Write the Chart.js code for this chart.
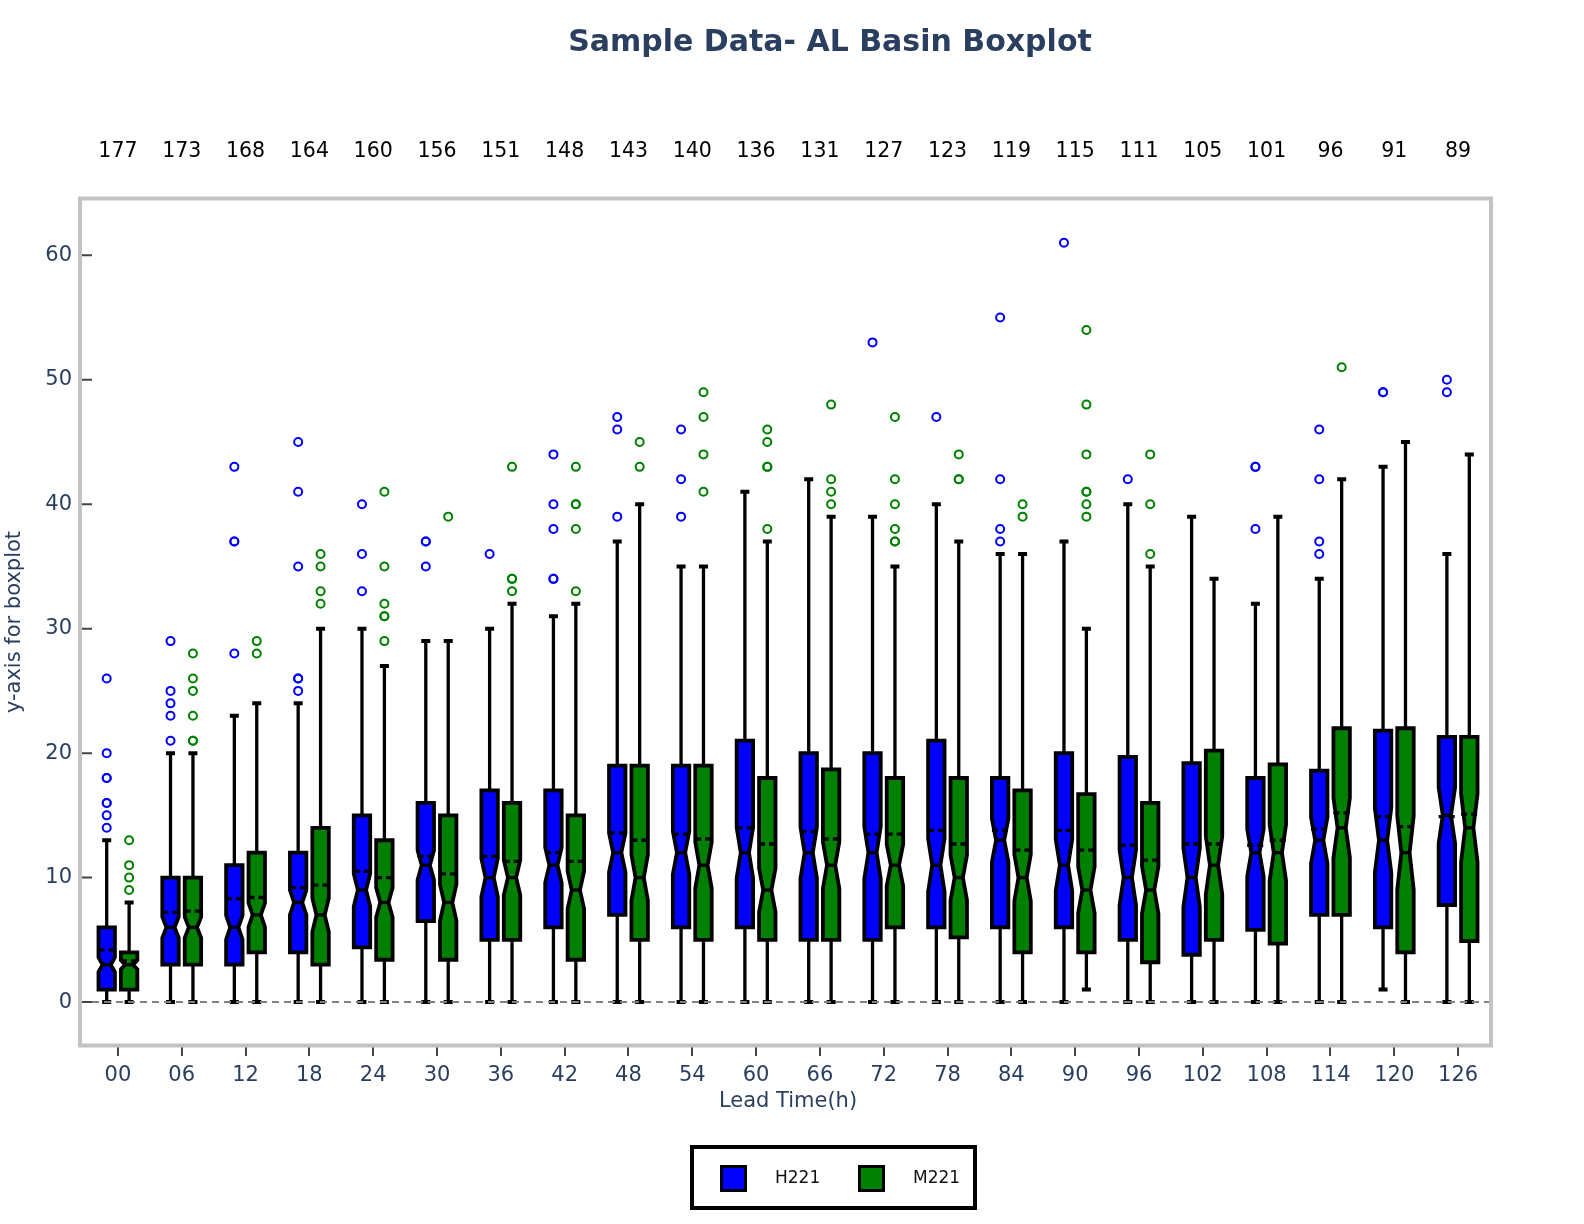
<!DOCTYPE html>
<html>
<head>
<meta charset="utf-8">
<title>Sample Data- AL Basin Boxplot</title>
<script src="https://cdn.jsdelivr.net/npm/chart.js@4.4.1/dist/chart.umd.min.js"></script>
<style>
  html, body { margin: 0; padding: 0; background: #fff; }
  #wrap { width: 1584px; height: 1224px; }
</style>
</head>
<body>
<div id="wrap"><canvas id="chart" width="1584" height="1224"></canvas></div>
<script>
// lead times and number of cases per lead time
const leadTimes = ['00', '06', '12', '18', '24', '30', '36', '42', '48', '54', '60', '66', '72', '78', '84', '90', '96', '102', '108', '114', '120', '126'];
const caseCounts = [177, 173, 168, 164, 160, 156, 151, 148, 143, 140, 136, 131, 127, 123, 119, 115, 111, 105, 101, 96, 91, 89];

// H221 box statistics
const hLow  = [0, 0, 0, 0, 0, 0, 0, 0, 0, 0, 0, 0, 0, 0, 0, 0, 0, 0, 0, 0, 1, 0];
const hQ1   = [1, 3, 3, 4, 4.4, 6.5, 5, 6, 7, 6, 6, 5, 5, 6, 6, 6, 5, 3.8, 5.8, 7, 6, 7.8];
const hMed  = [3, 6, 6, 8, 9, 11, 10, 11, 12, 12, 12, 12, 12, 11, 13, 11, 10, 10, 12, 13, 13, 15];
const hQ3   = [6, 10, 11, 12, 15, 16, 17, 17, 19, 19, 21, 20, 20, 21, 18, 20, 19.7, 19.2, 18, 18.6, 21.8, 21.3];
const hHigh = [13, 20, 23, 24, 30, 29, 30, 31, 37, 35, 41, 42, 39, 40, 36, 37, 40, 39, 32, 34, 43, 36];
const hMean = [4.2, 7.2, 8.3, 9.2, 10.5, 11.7, 11.7, 12, 13.6, 13.5, 14, 13.7, 13.5, 13.8, 13.8, 13.8, 12.6, 12.7, 12.6, 13.9, 14.9, 14.9];
const hOut  = [
  [14, 15, 16, 16, 18, 18, 20, 26], [21, 23, 24, 25, 29], [28, 37, 37, 43], [25, 26, 26, 35, 41, 45],
  [33, 36, 40], [35, 37, 37], [36], [34, 34, 38, 40, 44], [39, 46, 47], [39, 42, 46], [], [],
  [53], [47], [37, 38, 42, 55], [61], [42], [], [38, 43, 43], [36, 37, 42, 46], [49, 49], [49, 50]
];

// M221 box statistics
const mLow  = [0, 0, 0, 0, 0, 0, 0, 0, 0, 0, 0, 0, 0, 0, 0, 1, 0, 0, 0, 0, 0, 0];
const mQ1   = [1, 3, 4, 3, 3.4, 3.4, 5, 3.4, 5, 5, 5, 5, 6, 5.2, 4, 4, 3.2, 5, 4.7, 7, 4, 4.9];
const mMed  = [3, 6, 7, 7, 8, 8, 10, 9, 10, 11, 9, 11, 11, 10, 10, 9, 9, 11, 12, 14, 12, 14];
const mQ3   = [4, 10, 12, 14, 13, 15, 16, 15, 19, 19, 18, 18.7, 18, 18, 17, 16.7, 16, 20.2, 19.1, 22, 22, 21.3];
const mHigh = [8, 20, 24, 30, 27, 29, 32, 32, 40, 35, 37, 39, 35, 37, 36, 30, 35, 34, 39, 42, 45, 44];
const mMean = [3.3, 7.3, 8.4, 9.4, 10, 10.3, 11.3, 11.3, 13, 13.1, 12.7, 13.1, 13.5, 12.7, 12.2, 12.2, 11.4, 12.7, 13, 15.2, 14.1, 15.1];
const mOut  = [
  [9, 10, 11, 13], [21, 21, 23, 25, 26, 28], [28, 29], [32, 33, 35, 36], [29, 31, 31, 32, 35, 41],
  [39], [33, 34, 34, 43], [33, 38, 40, 40, 43], [43, 45], [41, 44, 47, 49], [38, 43, 43, 45, 46],
  [40, 41, 42, 48], [37, 37, 38, 40, 42, 47], [42, 42, 44], [39, 40], [39, 40, 41, 41, 44, 48, 54],
  [36, 40, 44], [], [], [51], [], []
];

const yTicks = [0, 10, 20, 30, 40, 50, 60];

const FONT = "'DejaVu Sans', Verdana, sans-serif";
const INK = '#2a3f5f';

// 노치 박스 그리기
const boxPlugin = {
  id: 'notchedBoxes',
  afterDatasetsDraw(chart) {
    const ctx = chart.ctx;
    const y = chart.scales.y;
    const p = v => y.getPixelForValue(v);

    chart.data.datasets.forEach((ds, di) => {
      const meta = chart.getDatasetMeta(di);
      meta.data.forEach((bar, i) => {
        const cx = bar.x;
        const hw = bar.width / 2;
        const q1 = ds.q1[i], q3 = ds.q3[i], med = ds.med[i];
        const notch = 1.57 * (q3 - q1) / Math.sqrt(caseCounts[i]);

        ctx.save();
        ctx.strokeStyle = '#000';
        ctx.lineWidth = 3.3;
        ctx.beginPath();
        ctx.moveTo(cx, p(ds.low[i]));
        ctx.lineTo(cx, p(q1));
        ctx.moveTo(cx, p(q3));
        ctx.lineTo(cx, p(ds.high[i]));
        ctx.stroke();

        ctx.lineWidth = 4;
        ctx.beginPath();
        [ds.low[i], ds.high[i]].forEach(v => {
          ctx.moveTo(cx - 4.5, p(v));
          ctx.lineTo(cx + 4.5, p(v));
        });
        ctx.stroke();

        ctx.beginPath();
        ctx.moveTo(cx - hw, p(q1));
        ctx.lineTo(cx + hw, p(q1));
        ctx.lineTo(cx + hw, p(med - notch));
        ctx.lineTo(cx + hw / 2, p(med));
        ctx.lineTo(cx + hw, p(med + notch));
        ctx.lineTo(cx + hw, p(q3));
        ctx.lineTo(cx - hw, p(q3));
        ctx.lineTo(cx - hw, p(med + notch));
        ctx.lineTo(cx - hw / 2, p(med));
        ctx.lineTo(cx - hw, p(med - notch));
        ctx.closePath();
        ctx.fillStyle = ds.boxColor;
        ctx.fill();
        ctx.lineWidth = 3.8;
        ctx.lineJoin = 'miter';
        ctx.stroke();

        // 중앙값
        ctx.lineWidth = 3.3;
        ctx.beginPath();
        ctx.moveTo(cx - hw / 2, p(med));
        ctx.lineTo(cx + hw / 2, p(med));
        ctx.stroke();

        // 평균 (점선)
        ctx.setLineDash([6, 4]);
        ctx.beginPath();
        ctx.moveTo(cx - hw, p(ds.mean[i]));
        ctx.lineTo(cx + hw, p(ds.mean[i]));
        ctx.stroke();
        ctx.setLineDash([]);

        // 이상치
        ctx.strokeStyle = ds.boxColor;
        ctx.lineWidth = 2;
        ds.out[i].forEach(v => {
          ctx.beginPath();
          ctx.arc(cx, p(v), 4, 0, Math.PI * 2);
          ctx.stroke();
        });
        ctx.restore();
      });
    });

    // zero line
    const area = chart.chartArea;
    ctx.save();
    ctx.strokeStyle = '#808080';
    ctx.lineWidth = 2;
    ctx.setLineDash([7, 5]);
    ctx.beginPath();
    ctx.moveTo(area.left - 6, p(0));
    ctx.lineTo(area.right, p(0));
    ctx.stroke();
    ctx.restore();
  },
  afterDraw(chart) {
    const ctx = chart.ctx;
    const area = chart.chartArea;
    const x = chart.scales.x;
    const y = chart.scales.y;
    ctx.save();

    // frame
    ctx.strokeStyle = '#c3c3c3';
    ctx.lineWidth = 4;
    ctx.strokeRect(area.left - 6, area.top + 0.5, area.right - area.left + 7, area.bottom - area.top - 1);

    // y tick marks
    ctx.strokeStyle = '#444';
    ctx.lineWidth = 2;
    ctx.beginPath();
    yTicks.forEach(v => {
      const py = y.getPixelForValue(v);
      ctx.moveTo(area.left - 4, py);
      ctx.lineTo(area.left + 6, py);
    });
    ctx.stroke();

    // title
    ctx.fillStyle = INK;
    ctx.font = "bold 30px " + FONT;
    ctx.textAlign = 'center';
    ctx.textBaseline = 'middle';
    ctx.fillText('Sample Data- AL Basin Boxplot', 830, 43);

    // 사례 수
    ctx.fillStyle = '#000';
    ctx.font = "20.5px " + FONT;
    caseCounts.forEach((n, i) => {
      ctx.fillText(String(n), x.getPixelForValue(i), 152);
    });

    // legend
    ctx.strokeStyle = '#000';
    ctx.lineWidth = 4;
    ctx.strokeRect(692, 1147, 283, 61);
    ctx.font = "17px " + FONT;
    ctx.textAlign = 'left';
    const items = [[720, 775], [858, 913]];
    chart.data.datasets.forEach((ds, di) => {
      const [bx, tx] = items[di];
      ctx.fillStyle = ds.boxColor;
      ctx.fillRect(bx + 1.5, 1166.5, 24, 24);
      ctx.lineWidth = 3;
      ctx.strokeRect(bx + 1.5, 1166.5, 24, 24);
      ctx.fillStyle = '#111';
      ctx.fillText(ds.label, tx, 1179);
    });
    ctx.restore();
  }
};

new Chart(document.getElementById('chart'), {
  type: 'bar',
  data: {
    labels: leadTimes,
    datasets: [
      {
        label: 'H221',
        data: hQ1.map((v, i) => [v, hQ3[i]]),
        boxColor: '#0000ff',
        low: hLow, q1: hQ1, med: hMed, q3: hQ3, high: hHigh, mean: hMean, out: hOut,
        backgroundColor: 'rgba(0,0,0,0)',
        borderWidth: 0,
        categoryPercentage: 0.7026,
        barPercentage: 0.733
      },
      {
        label: 'M221',
        data: mQ1.map((v, i) => [v, mQ3[i]]),
        boxColor: '#008000',
        low: mLow, q1: mQ1, med: mMed, q3: mQ3, high: mHigh, mean: mMean, out: mOut,
        backgroundColor: 'rgba(0,0,0,0)',
        borderWidth: 0,
        categoryPercentage: 0.7026,
        barPercentage: 0.733
      }
    ]
  },
  options: {
    responsive: false,
    animation: false,
    events: [],
    layout: { padding: { top: 198, left: 0, right: 94, bottom: 98 } },
    plugins: {
      legend: { display: false },
      tooltip: { enabled: false },
      title: { display: false }
    },
    scales: {
      x: {
        type: 'category',
        offset: true,
        border: { display: false },
        grid: { display: true, drawOnChartArea: false, drawTicks: true, tickLength: 10, color: '#444', lineWidth: 2, offset: false },
        ticks: { color: INK, font: { family: FONT, size: 21 }, padding: 7, maxRotation: 0, autoSkip: false },
        title: { display: true, text: 'Lead Time(h)', color: INK, font: { family: FONT, size: 21 }, padding: { top: 0, bottom: 12 } },
        afterFit(scale) { scale.height = 80; }
      },
      y: {
        min: -3.53,
        max: 64.6,
        border: { display: false },
        grid: { display: false, drawTicks: false },
        ticks: { stepSize: 10, includeBounds: false, color: INK, font: { family: FONT, size: 21 }, padding: 14 },
        title: { display: true, text: 'y-axis for boxplot', color: INK, font: { family: FONT, size: 21 }, padding: { top: 2, bottom: 0 } },
        afterFit(scale) { scale.width = 86; }
      }
    }
  },
  plugins: [boxPlugin]
});
</script>
</body>
</html>
